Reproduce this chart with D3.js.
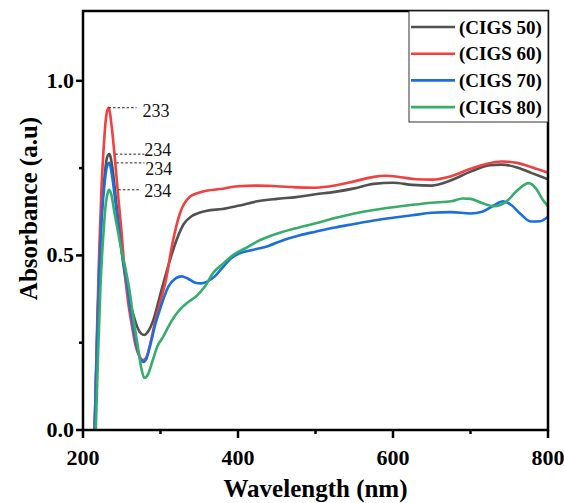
<!DOCTYPE html>
<html>
<head>
<meta charset="utf-8">
<script src="https://cdn.jsdelivr.net/npm/d3@7"></script>
<style>
  body { margin: 0; background: #fff; }
  text { font-family: "Liberation Serif", "Times New Roman", serif; }
  .tick-label { font-size: 22px; font-weight: bold; }
  .axis-title { font-size: 25px; font-weight: bold; }
  .legend-text { font-size: 19px; font-weight: bold; }
  .peak-label { font-size: 18px; }
</style>
</head>
<body>
<div id="chartDiv"></div>
<script>
// series: wavelength (nm) and absorbance (a.u)
let seriesNames = ['(CIGS 50)', '(CIGS 60)', '(CIGS 70)', '(CIGS 80)'];
let seriesColors = ['#515151', '#F14040', '#1A6FDF', '#37AD6B'];

let wlCIGS50 = [215, 218, 221, 224, 228, 231, 234, 238, 242, 246, 250, 255, 260, 265, 270, 275, 279, 284, 290, 300, 310, 320, 330, 340, 350, 360, 380, 400, 425, 450, 475, 500, 525, 550, 575, 600, 625, 650, 675, 700, 725, 740, 760, 780, 800];
let absCIGS50 = [0, 0.25, 0.47, 0.62, 0.73, 0.78, 0.79, 0.75, 0.67, 0.59, 0.51, 0.43, 0.37, 0.33, 0.295, 0.276, 0.272, 0.282, 0.31, 0.39, 0.47, 0.54, 0.59, 0.612, 0.622, 0.628, 0.633, 0.642, 0.655, 0.662, 0.667, 0.675, 0.682, 0.692, 0.705, 0.708, 0.702, 0.70, 0.715, 0.74, 0.758, 0.76, 0.752, 0.735, 0.718];

let wlCIGS60 = [215, 218, 221, 224, 227, 230, 233, 237, 241, 245, 250, 254, 258, 263, 268, 273, 277, 281, 286, 292, 300, 307, 315, 325, 338, 355, 377, 400, 425, 450, 475, 500, 525, 550, 575, 590, 610, 630, 650, 675, 700, 720, 740, 760, 780, 800];
let absCIGS60 = [0, 0.28, 0.52, 0.7, 0.82, 0.9, 0.923, 0.87, 0.78, 0.68, 0.56, 0.45, 0.37, 0.3, 0.24, 0.21, 0.2, 0.205, 0.24, 0.3, 0.37, 0.43, 0.53, 0.62, 0.668, 0.683, 0.69, 0.698, 0.70, 0.698, 0.695, 0.694, 0.70, 0.712, 0.725, 0.728, 0.724, 0.718, 0.717, 0.727, 0.748, 0.762, 0.769, 0.765, 0.752, 0.737];

let wlCIGS70 = [215, 218, 221, 224, 228, 231, 234, 238, 242, 246, 250, 256, 261, 266, 271, 275, 278, 282, 287, 293, 300, 310, 320, 327, 335, 345, 352, 360, 370, 380, 390, 402, 420, 440, 460, 480, 500, 525, 550, 575, 600, 625, 650, 675, 700, 715, 730, 742, 752, 765, 778, 790, 800];
let absCIGS70 = [0, 0.24, 0.45, 0.6, 0.71, 0.755, 0.765, 0.72, 0.65, 0.58, 0.51, 0.43, 0.35, 0.28, 0.225, 0.2, 0.195, 0.205, 0.245, 0.3, 0.35, 0.41, 0.435, 0.44, 0.434, 0.422, 0.42, 0.425, 0.44, 0.465, 0.49, 0.506, 0.516, 0.528, 0.545, 0.558, 0.568, 0.58, 0.59, 0.60, 0.608, 0.615, 0.622, 0.624, 0.62, 0.625, 0.643, 0.655, 0.645, 0.618, 0.597, 0.598, 0.611];

let wlCIGS80 = [216.5, 219.5, 222.5, 226, 229, 232, 234, 237, 240, 245, 250, 255, 260, 265, 270, 275, 279, 284, 290, 296, 303, 310, 318, 325, 335, 347, 357, 368, 380, 390, 400, 411, 425, 450, 475, 500, 525, 550, 575, 600, 625, 650, 675, 690, 700, 715, 730, 745, 760, 775, 785, 793, 800];
let absCIGS80 = [0, 0.22, 0.41, 0.55, 0.64, 0.68, 0.688, 0.67, 0.63, 0.57, 0.51, 0.46, 0.4, 0.32, 0.25, 0.18, 0.149, 0.16, 0.2, 0.24, 0.265, 0.295, 0.325, 0.345, 0.365, 0.385, 0.41, 0.45, 0.475, 0.495, 0.51, 0.522, 0.54, 0.562, 0.578, 0.592, 0.607, 0.62, 0.63, 0.638, 0.645, 0.651, 0.655, 0.663, 0.662, 0.65, 0.641, 0.652, 0.685, 0.707, 0.69, 0.66, 0.641];

// peak annotations
let peakWl = [234, 233, 234, 234];
let peakAbs = [0.79, 0.923, 0.765, 0.688];
let peakText = ['234', '233', '234', '234'];

let xTicks = [200, 400, 600, 800];
let xMinorTicks = [300, 500, 700];
let yTicks = [0.0, 0.5, 1.0];
let yMinorTicks = [0.25, 0.75];

let wlAll = [wlCIGS50, wlCIGS60, wlCIGS70, wlCIGS80];
let absAll = [absCIGS50, absCIGS60, absCIGS70, absCIGS80];

let margin = {top: 11, right: 16, bottom: 73, left: 83};
let width = 564 - margin.left - margin.right;
let height = 503 - margin.top - margin.bottom;

let svg = d3.select('#chartDiv')
    .append('svg')
    .attr('width', 564)
    .attr('height', 503)
    .append('g')
    .attr('transform', 'translate(' + margin.left + ',' + margin.top + ')');

let xScale = d3.scaleLinear().domain([200, 800]).range([0, width]);
let yScale = d3.scaleLinear().domain([0, 1.2]).range([height, 0]);

svg.append('clipPath').attr('id', 'plotClip')
    .append('rect').attr('width', width).attr('height', height);

let line = d3.line()
    .x(function(d) {return xScale(d[0])})
    .y(function(d) {return yScale(d[1])})
    .curve(d3.curveMonotoneX);

let series = seriesNames.map(function(name, i) {
    return {name: name, color: seriesColors[i], points: d3.zip(wlAll[i], absAll[i])};
});

svg.append('g').attr('clip-path', 'url(#plotClip)')
    .selectAll('path')
    .data(series)
    .enter()
    .append('path')
    .attr('fill', 'none')
    .attr('stroke', function(d) {return d.color})
    .attr('stroke-width', 2.6)
    .attr('stroke-linejoin', 'round')
    .attr('d', function(d) {return line(d.points)});

// peak leaders and labels (order: black, red, blue, green)
let leaderStart = [6, 0, 7, 9];
let leaderLen = [35, 28, 35, 31];
let labelX = [35, 34, 36, 35];
let labelDy = [2, 9, 12, 7];
peakWl.forEach(function(wl, i) {
    let x0 = xScale(wl) + leaderStart[i];
    let y0 = yScale(peakAbs[i]);
    svg.append('line')
        .attr('x1', x0).attr('x2', xScale(wl) + leaderLen[i])
        .attr('y1', y0).attr('y2', y0)
        .attr('stroke', '#222')
        .attr('stroke-width', 1)
        .attr('stroke-dasharray', '2.5,2');
    svg.append('text')
        .attr('class', 'peak-label')
        .attr('x', xScale(wl) + labelX[i])
        .attr('y', y0 + labelDy[i])
        .attr('fill', '#111')
        .text(peakText[i]);
});

// frame
svg.append('rect')
    .attr('width', width).attr('height', height)
    .attr('fill', 'none')
    .attr('stroke', '#000')
    .attr('stroke-width', 2.5);

// x axis
let xAxis = svg.append('g').attr('transform', 'translate(0,' + height + ')');
xAxis.selectAll('line.major').data(xTicks).enter().append('line')
    .attr('x1', function(d) {return xScale(d)}).attr('x2', function(d) {return xScale(d)})
    .attr('y1', 0).attr('y2', 8)
    .attr('stroke', '#000').attr('stroke-width', 2.5);
xAxis.selectAll('line.minor').data(xMinorTicks).enter().append('line')
    .attr('x1', function(d) {return xScale(d)}).attr('x2', function(d) {return xScale(d)})
    .attr('y1', 0).attr('y2', 4)
    .attr('stroke', '#000').attr('stroke-width', 2.5);
xAxis.selectAll('text').data(xTicks).enter().append('text')
    .attr('class', 'tick-label')
    .attr('x', function(d) {return xScale(d)})
    .attr('y', 35)
    .attr('text-anchor', 'middle')
    .text(function(d) {return d});

// y axis
let yAxis = svg.append('g');
yAxis.selectAll('line.major').data(yTicks).enter().append('line')
    .attr('x1', -7).attr('x2', 0)
    .attr('y1', function(d) {return yScale(d)}).attr('y2', function(d) {return yScale(d)})
    .attr('stroke', '#000').attr('stroke-width', 2.5);
yAxis.selectAll('line.minor').data(yMinorTicks).enter().append('line')
    .attr('x1', -4).attr('x2', 0)
    .attr('y1', function(d) {return yScale(d)}).attr('y2', function(d) {return yScale(d)})
    .attr('stroke', '#000').attr('stroke-width', 2.5);
yAxis.selectAll('text').data(yTicks).enter().append('text')
    .attr('class', 'tick-label')
    .attr('x', -9)
    .attr('y', function(d) {return yScale(d) + 7})
    .attr('text-anchor', 'end')
    .text(function(d) {return d3.format('.1f')(d)});

// axis titles
svg.append('text')
    .attr('class', 'axis-title')
    .attr('x', width / 2)
    .attr('y', height + 67)
    .attr('text-anchor', 'middle')
    .text('Wavelength (nm)');

svg.append('text')
    .attr('class', 'axis-title')
    .attr('transform', 'translate(' + (-46) + ',' + (height / 2 - 12) + ') rotate(-90)')
    .attr('text-anchor', 'middle')
    .text('Absorbance (a.u)');

// legend
let legend = svg.append('g').attr('transform', 'translate(' + (width - 139) + ',0)');
legend.append('rect')
    .attr('width', 139).attr('height', 111)
    .attr('fill', '#fff')
    .attr('stroke', '#333')
    .attr('stroke-width', 1);
let legendRows = legend.selectAll('g.row')
    .data(series)
    .enter()
    .append('g')
    .attr('transform', function(d, i) {return 'translate(0,' + (16 + i * 26.7) + ')'});
legendRows.append('line')
    .attr('x1', 2).attr('x2', 46)
    .attr('stroke', function(d) {return d.color})
    .attr('stroke-width', 2.6);
legendRows.append('text')
    .attr('class', 'legend-text')
    .attr('x', 50)
    .attr('y', 6.5)
    .text(function(d) {return d.name});
</script>
</body>
</html>
